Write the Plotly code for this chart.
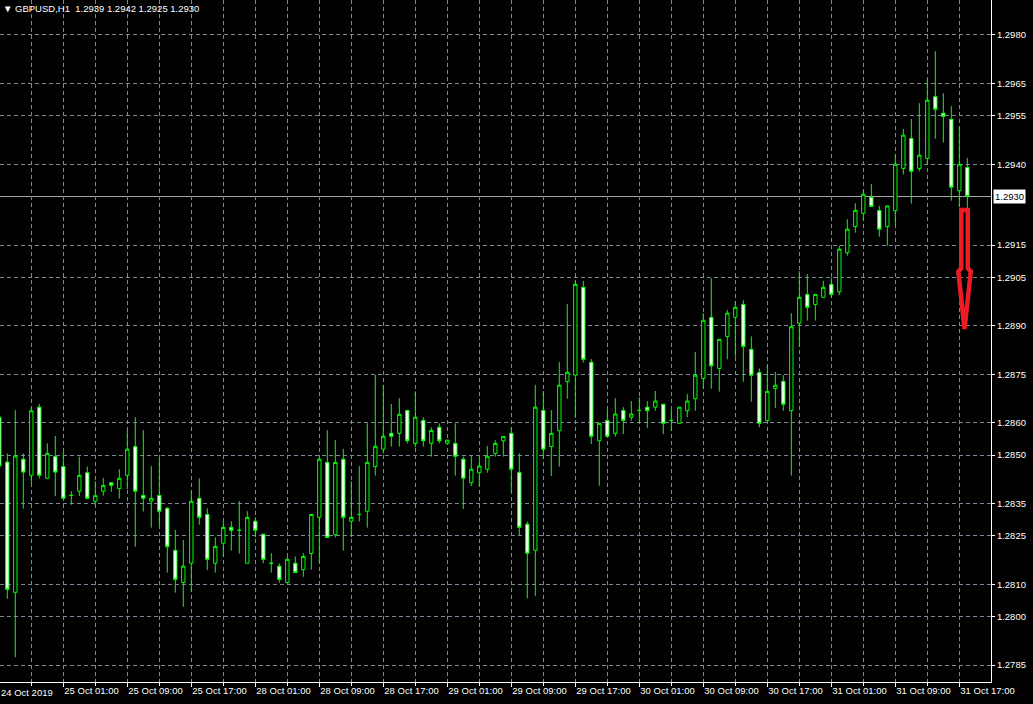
import plotly.graph_objects as go

# ---------------- data (GBPUSD H1, 24 Oct 17:00 .. 31 Oct 18:00, bar index) ----------------
BARS = list(range(122))

OPEN = [1.28617, 1.28478, 1.28075, 1.28487, 1.28437, 1.28648, 1.28428, 1.28495, 1.28464, 1.28375,
        1.28388, 1.28445, 1.28357, 1.28388, 1.28414, 1.28396, 1.28437, 1.28526, 1.28375, 1.28357,
        1.28375, 1.28335, 1.28205, 1.28105, 1.28165, 1.28366, 1.28316, 1.28165, 1.28227, 1.28276,
        1.28267, 1.28165, 1.28295, 1.28255, 1.28165, 1.28156, 1.28105, 1.28165, 1.28145, 1.28195,
        1.28307, 1.28477, 1.28253, 1.28487, 1.28295, 1.28316, 1.28326, 1.28464, 1.28518, 1.28567,
        1.28567, 1.28638, 1.28536, 1.28607, 1.28536, 1.28586, 1.28536, 1.28536, 1.28487, 1.28414,
        1.28445, 1.28456, 1.28505, 1.28544, 1.28567, 1.28446, 1.28286, 1.28205, 1.28638, 1.28526,
        1.28575, 1.28727, 1.28747, 1.29019, 1.28787, 1.28544, 1.28607, 1.28567, 1.28638, 1.28617,
        1.28638, 1.28648, 1.28648, 1.28657, 1.28607, 1.28598, 1.28637, 1.28674, 1.28737, 1.28926,
        1.28768, 1.28867, 1.28926, 1.28966, 1.28827, 1.28755, 1.28606, 1.28706, 1.28728, 1.28637,
        1.28908, 1.28997, 1.28966, 1.28988, 1.29028, 1.29005, 1.29126, 1.29207, 1.29248, 1.29298,
        1.29257, 1.29207, 1.29256, 1.29387, 1.29480, 1.29387, 1.29418, 1.29609, 1.29558, 1.29539,
        1.29318, 1.29390]

HIGH = [1.28621, 1.28505, 1.28639, 1.28505, 1.28648, 1.28658, 1.28536, 1.28559, 1.28510, 1.28388,
        1.28495, 1.28464, 1.28419, 1.28429, 1.28414, 1.28456, 1.28577, 1.28617, 1.28577, 1.28466,
        1.28490, 1.28339, 1.28268, 1.28237, 1.28388, 1.28428, 1.28335, 1.28245, 1.28295, 1.28295,
        1.28357, 1.28326, 1.28307, 1.28255, 1.28196, 1.28165, 1.28185, 1.28186, 1.28196, 1.28316,
        1.28495, 1.28577, 1.28546, 1.28519, 1.28419, 1.28466, 1.28598, 1.28748, 1.28717, 1.28658,
        1.28676, 1.28639, 1.28697, 1.28617, 1.28586, 1.28598, 1.28546, 1.28598, 1.28495, 1.28497,
        1.28495, 1.28528, 1.28546, 1.28557, 1.28586, 1.28505, 1.28294, 1.28717, 1.28698, 1.28639,
        1.28788, 1.28967, 1.29039, 1.29039, 1.28797, 1.28598, 1.28642, 1.28676, 1.28648, 1.28667,
        1.28679, 1.28667, 1.28698, 1.28657, 1.28641, 1.28648, 1.28689, 1.28819, 1.28939, 1.29047,
        1.28858, 1.28949, 1.28977, 1.28979, 1.28867, 1.28768, 1.28778, 1.28757, 1.28747, 1.28939,
        1.29069, 1.29060, 1.28997, 1.29039, 1.29049, 1.29148, 1.29230, 1.29279, 1.29320, 1.29339,
        1.29271, 1.29271, 1.29429, 1.29509, 1.29540, 1.29589, 1.29663, 1.29750, 1.29620, 1.29580,
        1.29517, 1.29420]

LOW = [1.28463, 1.28055, 1.27874, 1.28334, 1.28412, 1.28427, 1.28427, 1.28373, 1.28364, 1.28346,
       1.28373, 1.28365, 1.28345, 1.28374, 1.28386, 1.28365, 1.28394, 1.28216, 1.28325, 1.28275,
       1.28282, 1.28136, 1.28074, 1.28030, 1.28077, 1.28284, 1.28144, 1.28136, 1.28185, 1.28204,
       1.28195, 1.28165, 1.28245, 1.28165, 1.28136, 1.28105, 1.28105, 1.28136, 1.28123, 1.28145,
       1.28165, 1.28245, 1.28245, 1.28204, 1.28245, 1.28294, 1.28275, 1.28436, 1.28505, 1.28526,
       1.28526, 1.28536, 1.28524, 1.28526, 1.28495, 1.28536, 1.28536, 1.28436, 1.28333, 1.28404,
       1.28404, 1.28445, 1.28495, 1.28495, 1.28386, 1.28252, 1.28056, 1.28064, 1.28487, 1.28435,
       1.28464, 1.28674, 1.28615, 1.28786, 1.28534, 1.28405, 1.28557, 1.28557, 1.28565, 1.28606,
       1.28598, 1.28584, 1.28637, 1.28565, 1.28575, 1.28598, 1.28617, 1.28637, 1.28705, 1.28705,
       1.28696, 1.28796, 1.28804, 1.28727, 1.28665, 1.28586, 1.28606, 1.28646, 1.28637, 1.28436,
       1.28835, 1.28916, 1.28916, 1.28988, 1.28987, 1.28995, 1.29117, 1.29188, 1.29227, 1.29269,
       1.29176, 1.29148, 1.29212, 1.29368, 1.29278, 1.29378, 1.29398, 1.29479, 1.29467, 1.29287,
       1.29269, 1.29250]

CLOSE = [1.28466, 1.28084, 1.28497, 1.28447, 1.28637, 1.28437, 1.28505, 1.28447, 1.28366, 1.28375,
         1.28437, 1.28366, 1.28374, 1.28406, 1.28406, 1.28428, 1.28518, 1.28388, 1.28366, 1.28366,
         1.28326, 1.28216, 1.28115, 1.28156, 1.28357, 1.28307, 1.28177, 1.28217, 1.28276, 1.28267,
         1.28267, 1.28307, 1.28267, 1.28177, 1.28165, 1.28115, 1.28177, 1.28136, 1.28186, 1.28316,
         1.28487, 1.28245, 1.28477, 1.28307, 1.28307, 1.28316, 1.28477, 1.28527, 1.28558, 1.28558,
         1.28626, 1.28544, 1.28617, 1.28544, 1.28576, 1.28544, 1.28546, 1.28496, 1.28428, 1.28456,
         1.28466, 1.28496, 1.28536, 1.28557, 1.28456, 1.28276, 1.28196, 1.28648, 1.28518, 1.28567,
         1.28716, 1.28756, 1.29028, 1.28796, 1.28558, 1.28598, 1.28558, 1.28627, 1.28607, 1.28627,
         1.28638, 1.28637, 1.28667, 1.28598, 1.28607, 1.28648, 1.28667, 1.28747, 1.28917, 1.28776,
         1.28858, 1.28939, 1.28957, 1.28836, 1.28747, 1.28598, 1.28697, 1.28716, 1.28657, 1.28897,
         1.28988, 1.28957, 1.28997, 1.29019, 1.28997, 1.29137, 1.29199, 1.29257, 1.29307, 1.29269,
         1.29199, 1.29271, 1.29400, 1.29490, 1.29378, 1.29428, 1.29598, 1.29570, 1.29548, 1.29329,
         1.29400, 1.29300]

X_TICK_BARS = [8, 16, 24, 32, 40, 48, 56, 64, 72, 80, 88, 96, 104, 112, 120]
X_TICK_TEXT = ["25 Oct 01:00", "25 Oct 09:00", "25 Oct 17:00", "28 Oct 01:00", "28 Oct 09:00",
               "28 Oct 17:00", "29 Oct 01:00", "29 Oct 09:00", "29 Oct 17:00", "30 Oct 01:00",
               "30 Oct 09:00", "30 Oct 17:00", "31 Oct 01:00", "31 Oct 09:00", "31 Oct 17:00"]
FIRST_LABEL = "24 Oct 2019"

Y_TICKS = [1.2980, 1.2965, 1.2955, 1.2940, 1.2915, 1.2905, 1.2890, 1.2875,
           1.2860, 1.2850, 1.2835, 1.2825, 1.2810, 1.2800, 1.2785]

SYMBOL = "GBPUSD,H1"
LAST_OHLC = [1.2939, 1.2942, 1.2925, 1.2930]
CURRENT_PRICE = 1.2930

# red down arrow (price levels)
ARROW_TOP = 1.29258
ARROW_NECK = 1.29078
ARROW_HEAD = 1.29068
ARROW_TIP = 1.28890

# ---------------- figure ----------------
GRID = "#778899"
GREEN = "#00ff00"
FONT = "Liberation Sans"

fig = go.Figure(go.Candlestick(
    x=BARS, open=OPEN, high=HIGH, low=LOW, close=CLOSE,
    increasing=dict(line=dict(color=GREEN, width=1), fillcolor="#000000"),
    decreasing=dict(line=dict(color=GREEN, width=1), fillcolor="#ffffff"),
    whiskerwidth=0, showlegend=False, hoverinfo="skip",
))

c = BARS[-1] - 0.35
sw, hw = 0.41, 0.78
arrow_path = (f"M {c - sw} {ARROW_TOP} L {c + sw} {ARROW_TOP} L {c + sw} {ARROW_NECK} "
              f"L {c + hw} {ARROW_HEAD} L {c} {ARROW_TIP} L {c - hw} {ARROW_HEAD} "
              f"L {c - sw} {ARROW_NECK} Z")

fig.update_layout(
    width=1033, height=704,
    margin=dict(l=0, r=42, t=0, b=22, autoexpand=False),
    paper_bgcolor="#000000", plot_bgcolor="#000000",
    font=dict(family=FONT, size=9.5, color="#ffffff"),
    boxgap=0.4,
    shapes=[
        dict(type="line", xref="paper", x0=0, x1=1, yref="y", y0=CURRENT_PRICE, y1=CURRENT_PRICE,
             line=dict(color="#a0a8b0", width=1), layer="below"),
        dict(type="path", xref="x", yref="y", path=arrow_path,
             line=dict(color="#ed1c24", width=4.5), fillcolor="rgba(0,0,0,0)"),
    ],
    annotations=[
        dict(xref="paper", yref="paper", x=0, y=1, xanchor="left", yanchor="top",
             xshift=1, yshift=-1, showarrow=False,
             text="\u25bc\u00a0" + SYMBOL + "\u00a0\u00a0" + "\u00a0".join(f"{v:.4f}" for v in LAST_OHLC),
             font=dict(color="#ffffff", size=9.5, family=FONT)),
        dict(xref="paper", yref="paper", x=0, y=0, xanchor="left", yanchor="top",
             xshift=-1, yshift=-3, showarrow=False, text=FIRST_LABEL,
             font=dict(color="#ffffff", size=9.5, family=FONT)),
        dict(xref="paper", yref="y", x=1, y=CURRENT_PRICE, xanchor="left", yanchor="middle",
             xshift=2, showarrow=False, text=f"{CURRENT_PRICE:.4f}", bgcolor="#ffffff",
             borderpad=1, font=dict(color="#000000", size=9.5, family=FONT)),
    ],
)

fig.update_xaxes(
    range=[0.0875, 123.96], rangeslider=dict(visible=False), automargin=False,
    tickmode="array", tickvals=X_TICK_BARS, ticktext=X_TICK_TEXT,
    ticks="outside", ticklen=4, tickcolor="#ffffff", tickwidth=1,
    ticklabelposition="outside right",
    tickfont=dict(color="#ffffff", size=9.5, family=FONT),
    showline=True, linecolor="#ffffff", linewidth=1,
    showgrid=True, gridcolor=GRID, gridwidth=1, griddash="4px,3px",
    minor=dict(tickmode="linear", tick0=0, dtick=4, ticks="outside", ticklen=3,
               tickcolor="#ffffff", showgrid=True, gridcolor=GRID, griddash="4px,3px", gridwidth=1),
    zeroline=False, fixedrange=True,
)

fig.update_yaxes(
    side="right", range=[1.277974, 1.299083], automargin=False,
    tickmode="array", tickvals=Y_TICKS, tickformat=".4f",
    ticks="outside", ticklen=3, tickcolor="#ffffff",
    tickfont=dict(color="#ffffff", size=9.5, family=FONT),
    showline=True, linecolor="#ffffff", linewidth=1,
    showgrid=True, gridcolor=GRID, gridwidth=1, griddash="4px,3px",
    zeroline=False, fixedrange=True,
)

fig.write_html(
    "out.html",
    config={"displayModeBar": False},
    post_script="document.body.style.margin='0';document.body.style.overflow='hidden';",
)
